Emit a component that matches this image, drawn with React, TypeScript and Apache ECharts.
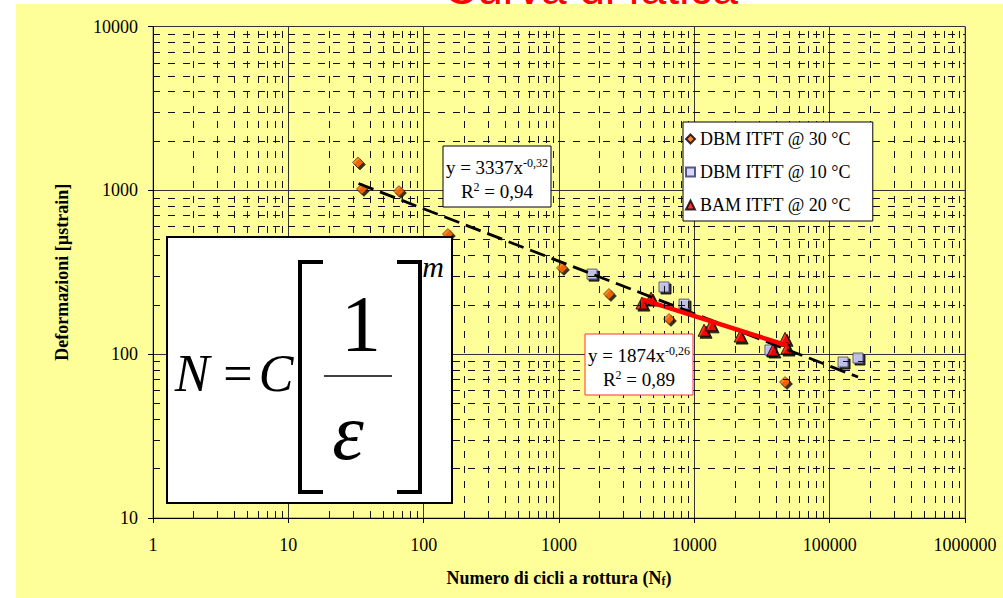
import React, { useEffect, useRef } from "react";
import * as echarts from "echarts";

// ---- data ----
const dbm30: [number, number][] = [
  [32.7, 1480], [35, 1020], [65.7, 990], [151, 541], [1052, 336], [2340, 233], [6500, 164], [46800, 67.6],
];
const dbm10: [number, number][] = [
  [1754, 308], [5970, 257], [8390, 202], [36200, 106], [125600, 89.5], [162000, 94.7],
];
const bam20: [number, number][] = [
  [4100, 205], [4790, 220], [11800, 140], [13300, 151], [21800, 129], [38100, 106], [46800, 125], [48400, 109],
];
// trend lines (power laws = straight segments on log-log axes)
const trendDbm: [number, number][] = [[33, 1100], [162000, 72.5]];
const trendBam: [number, number][] = [[4100, 216], [48400, 113]];

const seriesNames = ["DBM ITFT @ 30 °C", "DBM ITFT @ 10 °C", "BAM ITFT @ 20 °C"];
const xDecades = [1, 10, 100, 1000, 10000, 100000];
const yDecades = [10, 100, 1000];
const minorMultipliers = [2, 3, 4, 5, 6, 7, 8, 9];
const eq1 = ["y = 3337x", "-0,32", "0,94"];
const eq2 = ["y = 1874x", "-0,26", "0,89"];

const SERIF = "'Liberation Serif', 'Times New Roman', serif";
const SANS = "'Liberation Sans', Arial, sans-serif";

const minorX = xDecades.flatMap((d) => minorMultipliers.map((m) => m * d));
const minorY = yDecades.flatMap((d) => minorMultipliers.map((m) => m * d));

function eqBox(x: number, y: number, w: number, h: number, border: string, e: string[]) {
  const rich = {
    a: { fontFamily: SERIF, fontSize: 19, color: "#000" },
    s: { fontFamily: SERIF, fontSize: 12, color: "#000", verticalAlign: "top", lineHeight: 21 },
  };
  return {
    type: "group",
    z: 100,
    children: [
      { type: "rect", shape: { x, y, width: w, height: h }, style: { fill: "#fff", stroke: border, lineWidth: 1 }, z: 100 },
      {
        type: "text", z: 101, x: x + w / 2, y: y + 21,
        style: { text: `{a|${e[0]}}{s|${e[1]}}`, align: "center", verticalAlign: "middle", rich },
      },
      {
        type: "text", z: 101, x: x + w / 2, y: y + 45,
        style: { text: `{a|R}{s|2}{a| = ${e[2]}}`, align: "center", verticalAlign: "middle", rich },
      },
    ],
  };
}

export default function App() {
  const ref = useRef<HTMLDivElement>(null);
  useEffect(() => {
    if (!ref.current) return;
    const chart = echarts.init(ref.current, null, { renderer: "svg" });
    const shadow = { shadowColor: "#000", shadowOffsetX: 2, shadowOffsetY: 2, shadowBlur: 0.01 };
    const option: any = {
      animation: false,
      backgroundColor: "transparent",
      grid: {
        left: 153, top: 26.5, width: 812, height: 491.5,
        show: true, borderColor: "#808080", borderWidth: 1, backgroundColor: "transparent",
        containLabel: false, outerBoundsMode: "none",
      },
      xAxis: {
        type: "log", logBase: 10, min: 1, max: 1000000,
        name: "Numero di cicli a rottura (N{sub|f})",
        nameLocation: "middle", nameGap: 51,
        nameTextStyle: {
          fontFamily: SERIF, fontSize: 18, fontWeight: "bold", color: "#000",
          rich: { sub: { fontFamily: SERIF, fontSize: 12, fontWeight: "bold", color: "#000", verticalAlign: "bottom", lineHeight: 14 } },
        },
        axisLine: { show: true, lineStyle: { color: "#000", width: 1 } },
        axisTick: { show: true, length: 5, lineStyle: { color: "#000" } },
        axisLabel: { fontFamily: SERIF, fontSize: 18, color: "#000", margin: 18, formatter: (v: number) => String(Math.round(v)) },
        splitLine: { show: true, lineStyle: { color: "#333", width: 1 } },
      },
      yAxis: {
        type: "log", logBase: 10, min: 10, max: 10000,
        name: "Deformazioni [µstrain]",
        nameLocation: "middle", nameGap: 82,
        nameTextStyle: { fontFamily: SERIF, fontSize: 18, fontWeight: "bold", color: "#000" },
        axisLine: { show: true, lineStyle: { color: "#000", width: 1 } },
        axisTick: { show: true, length: 5, lineStyle: { color: "#000" } },
        axisLabel: { fontFamily: SERIF, fontSize: 18, color: "#000", margin: 15, formatter: (v: number) => String(Math.round(v)) },
        splitLine: { show: true, lineStyle: { color: "#333", width: 1 } },
      },
      legend: {
        data: seriesNames,
        orient: "vertical",
        left: 683, top: 122,
        padding: [8, 22, 7, 2],
        itemGap: 15,
        itemWidth: 9, itemHeight: 9,
        itemStyle: { shadowColor: "transparent", shadowOffsetX: 0, shadowOffsetY: 0 },
        backgroundColor: "#fff", borderColor: "#000", borderWidth: 1, borderRadius: 0,
        textStyle: { fontFamily: SERIF, fontSize: 18, color: "#000" },
        selectedMode: false,
        z: 50,
      },
      series: [
        {
          name: "grid-minor", type: "scatter", data: [[1, 10]], symbolSize: 0, z: 1, silent: true,
          markLine: {
            silent: true, symbol: ["none", "none"], label: { show: false },
            lineStyle: { color: "#111", width: 1, type: [7, 8] },
            emphasis: { disabled: true },
            data: [...minorX.map((v) => ({ xAxis: v })), ...minorY.map((v) => ({ yAxis: v }))],
          },
        },
        {
          name: seriesNames[0], type: "scatter", data: dbm30, symbol: "diamond", symbolSize: 11, z: 3,
          itemStyle: { color: "#FF6600", borderColor: "#000", borderWidth: 0.6, ...shadow },
        },
        {
          name: seriesNames[1], type: "scatter", data: dbm10, symbol: "rect", symbolSize: 10, z: 3,
          itemStyle: { color: "#CCCCFF", borderColor: "#333366", borderWidth: 1, ...shadow },
        },
        {
          name: seriesNames[2], type: "scatter", data: bam20, symbol: "triangle", symbolSize: 12, z: 3,
          itemStyle: { color: "#FF0000", borderColor: "#000", borderWidth: 1, ...shadow },
        },
        {
          name: "trend-dbm", type: "line", data: trendDbm, showSymbol: false, symbol: "none", z: 4, silent: true,
          lineStyle: { color: "#000", width: 2.8, type: [16, 7] },
        },
        {
          name: "trend-bam", type: "line", data: trendBam, showSymbol: false, symbol: "none", z: 4, silent: true,
          lineStyle: { color: "#FF0000", width: 4.5 },
        },
      ],
      graphic: [
        {
          type: "text", x: 591, y: -12, z: 100,
          style: { text: "Curva di fatica", fontFamily: SANS, fontSize: 46, fill: "#FF0000", align: "center", verticalAlign: "middle" },
        },
        eqBox(443, 146, 108, 61, "#000", eq1),
        eqBox(585, 334, 108, 61, "#FF3333", eq2),
        {
          type: "group", z: 100,
          children: [
            { type: "rect", z: 100, shape: { x: 167, y: 237, width: 285, height: 266 }, style: { fill: "#fff", stroke: "#000", lineWidth: 2 } },
            { type: "text", z: 101, x: 192, y: 373, style: { text: "N", fontFamily: SERIF, fontStyle: "italic", fontSize: 52, fill: "#000", align: "center", verticalAlign: "middle" } },
            { type: "text", z: 101, x: 238, y: 373, style: { text: "=", fontFamily: SERIF, fontSize: 52, fill: "#000", align: "center", verticalAlign: "middle" } },
            { type: "text", z: 101, x: 276, y: 373, style: { text: "C", fontFamily: SERIF, fontStyle: "italic", fontSize: 52, fill: "#000", align: "center", verticalAlign: "middle" } },
            { type: "polyline", z: 101, shape: { points: [[323, 262], [300, 262], [300, 492], [323, 492]] }, style: { stroke: "#000", lineWidth: 4, fill: null } },
            { type: "polyline", z: 101, shape: { points: [[397, 262], [420, 262], [420, 492], [397, 492]] }, style: { stroke: "#000", lineWidth: 4, fill: null } },
            { type: "text", z: 101, x: 361, y: 324, style: { text: "1", fontFamily: SERIF, fontSize: 80, fill: "#000", align: "center", verticalAlign: "middle" } },
            { type: "line", z: 101, shape: { x1: 324, y1: 376, x2: 392, y2: 376 }, style: { stroke: "#000", lineWidth: 1.5 } },
            { type: "text", z: 101, x: 348, y: 432, style: { text: "ε", fontFamily: SERIF, fontStyle: "italic", fontSize: 80, fill: "#000", align: "center", verticalAlign: "middle" } },
            { type: "text", z: 101, x: 433, y: 266, style: { text: "m", fontFamily: SERIF, fontStyle: "italic", fontSize: 30, fill: "#000", align: "center", verticalAlign: "middle" } },
          ],
        },
      ],
    };
    chart.setOption(option);
    return () => chart.dispose();
  }, []);
  return (
    <div style={{ position: "absolute", left: 0, top: 0, width: 1003, height: 598, background: "#fff", overflow: "hidden" }}>
      <div style={{ position: "absolute", left: 16, top: 4, right: 0, bottom: 0, background: "#FFFF99" }} />
      <div ref={ref} style={{ position: "absolute", left: 0, top: 0, width: 1003, height: 598 }} />
    </div>
  );
}
